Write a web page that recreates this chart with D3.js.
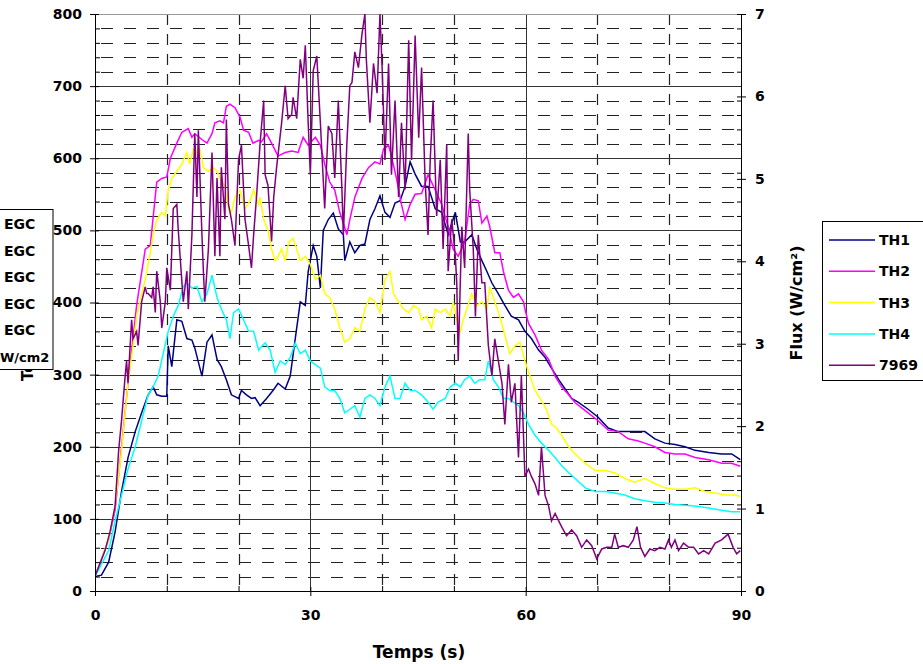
<!DOCTYPE html>
<html>
<head>
<meta charset="utf-8">
<script src="https://cdn.jsdelivr.net/npm/d3@7"></script>
<style>
  body { margin: 0; background: #fff; }
  text { font-family: "DejaVu Sans", Verdana, sans-serif; font-weight: bold; }
</style>
</head>
<body>
<div id="chart"></div>
<script>
// Temperatures (left axis, °C) and flux (right axis, W/cm²) against time (s)
const xTicks = [0, 30, 60, 90];
const yTicks = [0, 100, 200, 300, 400, 500, 600, 700, 800];
const fluxTicks = [0, 1, 2, 3, 4, 5, 6, 7];
const seriesNames = ["TH1", "TH2", "TH3", "TH4", "7969"];
const boxLabels = ["EGC", "EGC", "EGC", "EGC", "EGC", "W/cm2"];

const th1 = [[0,20],[0.9,22],[1.9,40],[2.8,82],[3.7,138],[4.6,185],[5.6,221],[6.5,247],[7.4,272],[8.1,283],[8.6,272],[9.3,270],[10,270],[10.2,340],[10.7,311],[11.4,376],[12.1,374],[12.8,350],[13.5,348],[13.9,337],[14.9,298],[15.6,345],[16.3,355],[17,321],[17.6,311],[18.3,293],[19,272],[20,267],[20.4,278],[21.1,272],[21.8,267],[22.3,268],[23,257],[23.9,267],[24.8,278],[25.5,288],[26.5,280],[27.2,298],[27.9,350],[28.6,401],[29.3,396],[29.7,443],[30.4,479],[30.9,464],[31.4,420],[31.8,500],[32.5,515],[33.2,524],[33.9,502],[34.6,494],[34.8,458],[35.5,484],[36.2,469],[36.9,479],[37.6,481],[38.3,515],[39,530],[39.7,548],[40.4,525],[41.1,518],[41.8,538],[42.5,541],[43.2,561],[43.9,595],[44.6,578],[45.5,561],[46.4,561],[47.4,530],[48.3,525],[49.2,494],[50.2,525],[50.9,484],[51.5,484],[52.5,494],[53.2,474],[53.9,458],[54.6,443],[55.3,427],[56.2,412],[57.1,396],[58,381],[59,376],[59.9,360],[60.8,350],[61.8,334],[62.7,324],[63.6,309],[64.6,293],[65.5,280],[66.4,267],[67.3,262],[68.7,252],[70.1,241],[71.5,226],[72.9,221],[74.3,221],[75.7,221],[76.6,221],[78,211],[79.4,205],[80.8,203],[82.2,200],[83.6,195],[85.5,192],[87.3,190],[88.7,190],[89.9,182]];

const th2 = [[0,20],[1.9,71],[2.8,112],[4.6,288],[5.8,396],[7,474],[7.7,479],[8.6,567],[9.3,572],[10,574],[10.5,600],[11.4,621],[12.1,636],[13,641],[13.5,629],[13.9,634],[14.9,626],[15.6,621],[16.3,634],[16.7,649],[17.4,652],[17.9,649],[18.3,672],[18.8,675],[19.5,670],[20.2,657],[20.7,639],[21.4,636],[22,621],[22.8,625],[23.2,623],[23.9,634],[24.6,621],[25.5,603],[26.5,608],[27.4,610],[28.3,608],[29,629],[29.7,618],[30.7,629],[31.4,618],[32,592],[32.7,567],[33.4,556],[34.1,525],[34.6,510],[35.1,494],[35.5,515],[36.2,546],[37.2,572],[38.1,587],[39,595],[39.7,592],[40.2,613],[40.9,618],[41.3,603],[42,572],[42.7,536],[43.2,515],[43.9,536],[44.6,550],[45.5,551],[46.4,577],[47.4,556],[48.3,536],[49.2,505],[49.9,474],[50.6,464],[51.5,484],[52.2,536],[52.7,543],[53.4,541],[53.9,510],[54.6,520],[55,505],[55.7,469],[56.4,469],[56.9,443],[57.6,417],[58.3,407],[59,412],[59.7,401],[59.9,391],[60.4,371],[61.3,355],[62.2,334],[63.2,321],[64.1,298],[65,283],[66,272],[66.9,261],[68.7,247],[70.1,236],[71.5,223],[72.9,221],[74.3,211],[75.7,208],[76.6,205],[78,200],[79.4,192],[80.8,190],[82.2,190],[83.6,185],[85.5,182],[87.3,177],[88.7,177],[89.9,173]];

const th3 = [[0,20],[1.9,71],[2.8,118],[3.7,195],[4.6,288],[5.3,340],[5.8,381],[6.5,412],[7,432],[7.7,469],[8.1,494],[8.6,515],[9.3,525],[9.8,520],[10.2,556],[10.7,572],[11.4,582],[12.1,592],[12.8,608],[13.2,592],[13.7,613],[14.2,608],[14.6,613],[15.1,587],[15.8,582],[16.5,587],[17,582],[17.4,572],[18.1,561],[18.6,530],[19,525],[19.5,546],[20.2,556],[20.9,530],[21.6,541],[22.1,556],[22.8,536],[23,546],[23.5,515],[24.1,500],[24.6,474],[25.1,458],[25.5,464],[26,474],[26.5,458],[27,484],[27.6,489],[28.1,474],[28.6,458],[29.3,464],[30,453],[30.7,432],[31.4,438],[32,412],[32.7,407],[33.4,391],[34.1,365],[34.8,345],[35.5,350],[36.2,365],[36.9,360],[37.6,391],[38.3,407],[39,401],[39.7,386],[40.4,432],[41.1,443],[41.6,412],[42.3,401],[43,391],[43.7,386],[44.4,396],[45.1,391],[45.5,376],[46.2,381],[46.9,365],[47.4,391],[48.1,386],[48.8,391],[49.5,381],[49.9,401],[50.4,376],[50.9,360],[51.3,376],[51.8,391],[52.5,412],[53.2,396],[53.9,401],[54.6,391],[55,422],[55.7,401],[56.4,381],[57.1,355],[57.8,329],[58.5,340],[59.2,345],[59.9,319],[60.6,298],[61.3,278],[62,267],[62.9,252],[63.6,231],[64.3,226],[65,216],[66,200],[66.9,190],[68.3,177],[69.7,167],[71.1,167],[72.4,164],[73.8,156],[75.2,151],[76.6,156],[78,149],[79.4,143],[80.8,141],[82.2,141],[83.6,143],[85,138],[86.4,136],[87.8,133],[89.2,133],[89.9,131]];

const th4 = [[0,20],[1.9,56],[2.8,97],[3.7,133],[4.6,169],[5.6,200],[6.5,236],[7.4,272],[8.1,283],[8.8,298],[9.5,329],[10.2,360],[10.9,381],[11.6,396],[12.3,422],[12.8,427],[13.5,420],[14.2,422],[14.9,401],[15.6,412],[16.3,438],[17,407],[17.6,391],[18.3,376],[18.8,350],[19.3,386],[20,391],[20.7,376],[21.4,360],[22.1,360],[22.8,334],[23.2,339],[23.7,344],[24.4,334],[25.1,303],[25.8,319],[26.5,314],[27.2,324],[27.9,344],[28.6,329],[29.3,334],[30,319],[30.7,314],[31.4,309],[32,283],[32.7,278],[33.4,278],[34.1,267],[34.8,247],[35.5,252],[36.2,257],[36.9,241],[37.6,267],[38.3,272],[39,267],[39.7,257],[40.4,283],[41.1,298],[41.8,267],[42.5,267],[43.2,288],[43.9,278],[44.6,278],[45.5,272],[46.4,262],[47.1,252],[47.8,262],[48.8,267],[49.5,283],[50.2,288],[50.9,283],[51.5,293],[52.2,298],[52.9,288],[53.6,293],[54.3,293],[54.8,319],[55.5,293],[56.2,283],[56.9,267],[57.6,267],[58.3,262],[59,257],[59.7,247],[60.4,231],[61.3,216],[62.2,205],[63.2,195],[64.1,185],[65,174],[66,164],[66.9,156],[68.3,143],[69.7,138],[71.1,138],[72.4,136],[73.8,133],[75.2,128],[76.6,125],[78,123],[79.4,122],[80.8,120],[82.2,119],[83.6,118],[85.5,115],[87.3,112],[88.7,110],[89.9,110]];

// flux sensor 7969, W/cm² (right axis)
const s7969 = [[0,0.18],[1.4,0.49],[2.1,0.72],[2.8,1.03],[3.3,1.71],[3.7,2.07],[4.2,2.61],[4.4,2.79],[4.6,2.52],[5.1,3.29],[5.3,3.06],[5.8,3.15],[6,2.98],[6.5,3.51],[7,3.69],[7.2,3.61],[7.4,3.61],[7.9,3.56],[8.1,3.69],[8.4,3.38],[8.6,3.88],[9.1,3.51],[9.3,3.19],[9.8,3.51],[10,3.92],[10.5,3.65],[10.7,4.15],[10.9,4.64],[11.4,4.69],[11.6,4.38],[12,3.88],[12.3,3.51],[12.8,3.88],[13,3.42],[13.5,4.32],[13.9,5.55],[14.2,4.78],[14.4,5.59],[14.9,4.32],[15.1,3.88],[15.3,3.51],[15.8,4.15],[16.3,5.32],[16.7,4.06],[17,5.01],[17.4,4.06],[17.6,5.14],[18.1,4.51],[18.3,5.72],[18.6,4.69],[19,4.51],[19.5,4.19],[20,5.23],[20.4,5.41],[20.9,4.51],[21.4,4.19],[21.8,3.92],[22.1,4.32],[22.5,4.78],[23,5.43],[23.5,5.95],[23.7,5.05],[24.1,4.92],[24.6,4.24],[24.9,4.78],[25.3,5.14],[26,5.68],[26.5,6.13],[26.9,5.73],[27.4,5.78],[27.6,5.99],[28.1,5.73],[28.6,6.45],[29,6.22],[29.3,6.62],[29.7,5.68],[30,5.05],[30.4,6.31],[30.9,6.49],[31.4,5.68],[32,4.64],[32.5,5.64],[33,5.55],[33.4,5.01],[33.9,5.95],[34.4,4.87],[34.6,4.32],[35.1,5.45],[35.5,6.13],[35.8,6.17],[36.2,6.54],[36.7,6.35],[37.2,6.76],[37.6,7.0],[37.8,6.45],[38.3,5.68],[38.8,6.4],[39.3,6.04],[39.7,7.0],[40,6.35],[40.4,5.23],[40.9,6.4],[41.3,5.05],[41.8,5.95],[42.3,4.78],[42.7,5.68],[43.2,4.87],[43.7,6.68],[44.1,5.23],[44.6,6.74],[45.1,5.5],[45.5,6.35],[46,4.96],[46.4,4.32],[46.7,5.23],[47.1,5.95],[47.6,4.55],[48.1,5.23],[48.5,4.15],[49,5.42],[49.2,3.88],[49.7,4.51],[50.2,4.06],[50.4,3.74],[50.6,2.79],[51.1,4.42],[51.5,3.92],[52,5.55],[52.2,4.87],[52.7,4.15],[53,3.33],[53.4,4.32],[53.9,3.74],[54.3,3.74],[54.8,2.98],[55.3,2.61],[55.7,3.06],[56.2,2.79],[56.7,2.52],[57.1,2.02],[57.6,2.75],[58,2.29],[58.5,2.52],[59,1.62],[59.4,2.61],[59.9,1.39],[60.4,1.48],[60.8,1.39],[61.3,1.3],[61.8,1.16],[62.2,1.75],[62.7,1.16],[63.2,1.03],[63.6,0.85],[64.1,0.94],[64.6,0.85],[65,0.78],[65.7,0.67],[66.4,0.74],[67.1,0.67],[67.8,0.53],[68.5,0.62],[69.2,0.55],[69.9,0.39],[70.6,0.51],[71.3,0.53],[72,0.53],[72.4,0.69],[72.9,0.53],[73.6,0.55],[74.3,0.53],[75,0.62],[75.5,0.78],[76,0.53],[76.6,0.42],[77.3,0.51],[78,0.49],[78.7,0.53],[79.4,0.51],[79.9,0.62],[80.3,0.53],[80.8,0.62],[81.3,0.49],[82,0.58],[82.7,0.53],[83.4,0.53],[84.1,0.45],[84.8,0.49],[85.5,0.45],[86.4,0.58],[87.3,0.62],[88.2,0.69],[88.9,0.53],[89.4,0.45],[89.9,0.49]];

const colors = ["#000080", "#ff00ff", "#ffff00", "#00ffff", "#800080"];

const W = 923, H = 664;
const margin = { top: 14, right: 182, bottom: 73, left: 95 },
    width = W - margin.left - margin.right,
    height = H - margin.top - margin.bottom;

const svg = d3.select("#chart").append("svg")
    .attr("width", W)
    .attr("height", H);

const g = svg.append("g")
    .attr("transform", `translate(${margin.left},${margin.top})`);

const x = d3.scaleLinear().domain([0, 90]).range([0, width]);
const y = d3.scaleLinear().domain([0, 800]).range([height, 0]);
const yF = d3.scaleLinear().domain([0, 7]).range([height, 0]);

const minorY = d3.range(20, 800, 20).filter(v => v % 100 !== 0);
const minorX = d3.range(10, 90, 10).filter(v => v % 30 !== 0);

// gridlines
const grid = g.append("g");
grid.selectAll(".hmin").data(minorY).enter().append("line")
    .attr("x1", 0).attr("x2", width)
    .attr("y1", d => Math.round(y(d)) + 0.5).attr("y2", d => Math.round(y(d)) + 0.5)
    .attr("stroke", "#222").attr("stroke-width", 1.2)
    .attr("stroke-dasharray", "12,11").attr("stroke-dashoffset", -6);
grid.selectAll(".vmin").data(minorX).enter().append("line")
    .attr("y1", 0).attr("y2", height)
    .attr("x1", d => Math.round(x(d)) + 0.5).attr("x2", d => Math.round(x(d)) + 0.5)
    .attr("stroke", "#222").attr("stroke-width", 1.2)
    .attr("stroke-dasharray", "11,9");
grid.selectAll(".hmaj").data(yTicks.slice(1, -1)).enter().append("line")
    .attr("x1", 0).attr("x2", width)
    .attr("y1", d => Math.round(y(d)) + 0.5).attr("y2", d => Math.round(y(d)) + 0.5)
    .attr("stroke", "#333");
grid.selectAll(".vmaj").data([30, 60]).enter().append("line")
    .attr("y1", 0).attr("y2", height)
    .attr("x1", d => Math.round(x(d)) + 0.5).attr("x2", d => Math.round(x(d)) + 0.5)
    .attr("stroke", "#333");
grid.append("line")
    .attr("x1", 0).attr("x2", width).attr("y1", 0.5).attr("y2", 0.5)
    .attr("stroke", "#999");

// series
g.append("clipPath").attr("id", "clip").append("rect")
    .attr("width", width).attr("height", height);

const lineL = d3.line().x(d => x(d[0])).y(d => y(d[1]));
const lineR = d3.line().x(d => x(d[0])).y(d => yF(d[1]));
const plot = g.append("g").attr("clip-path", "url(#clip)");

[th1, th2, th3, th4].forEach((s, i) => {
    plot.append("path").datum(s)
        .attr("fill", "none").attr("stroke", colors[i])
        .attr("stroke-width", 1.5).attr("d", lineL);
});
plot.append("path").datum(s7969)
    .attr("fill", "none").attr("stroke", colors[4])
    .attr("stroke-width", 1.5).attr("d", lineR);

// axes
function styleAxis(sel) {
    sel.selectAll("path, line").attr("stroke", "#000");
    sel.selectAll("text").attr("font-size", 14).attr("fill", "#000")
        .style("font-family", "'DejaVu Sans', Verdana, sans-serif").style("font-weight", "bold");
}

const yAxis = g.append("g")
    .call(d3.axisLeft(y).tickValues(yTicks).tickSize(5).tickSizeOuter(0).tickPadding(8))
    .call(styleAxis);
yAxis.selectAll(".tick line").attr("x1", 4);
g.append("g")
    .call(d3.axisLeft(y).tickValues(minorY).tickSize(-5).tickFormat(""))
    .call(sel => sel.select(".domain").remove())
    .call(styleAxis);

const rAxis = g.append("g")
    .attr("transform", `translate(${width},0)`)
    .call(d3.axisRight(yF).tickValues(fluxTicks).tickFormat(d3.format("d"))
        .tickSize(5).tickSizeOuter(0).tickPadding(9))
    .call(styleAxis);
rAxis.selectAll(".tick line").attr("x1", -4);
g.append("g")
    .attr("transform", `translate(${width},0)`)
    .call(d3.axisRight(y).tickValues(minorY).tickSize(-4).tickFormat(""))
    .call(sel => sel.select(".domain").remove())
    .call(styleAxis);

const xAxis = g.append("g")
    .attr("transform", `translate(0,${height})`)
    .call(d3.axisBottom(x).tickValues(xTicks).tickSize(5).tickSizeOuter(0).tickPadding(14))
    .call(styleAxis);
xAxis.selectAll(".tick line").attr("y1", -4);
g.append("g")
    .attr("transform", `translate(0,${height})`)
    .call(d3.axisBottom(x).tickValues(minorX).tickSize(-5).tickFormat(""))
    .call(sel => sel.select(".domain").remove())
    .call(styleAxis);

// axis titles
svg.append("text")
    .attr("x", 419)
    .attr("y", 658)
    .attr("text-anchor", "middle")
    .attr("font-size", 17)
    .text("Temps (s)");

svg.append("text")
    .attr("transform", "translate(802,303) rotate(-90)")
    .attr("text-anchor", "middle")
    .attr("font-size", 16)
    .text("Flux (W/cm²)");

svg.append("text")
    .attr("transform", "translate(33,381) rotate(-90)")
    .attr("text-anchor", "start")
    .attr("font-size", 15)
    .text("Température (°C)");

// data table box on the left (partly outside the page in the reference)
const box = svg.append("g");
box.append("rect")
    .attr("x", -5).attr("y", 209.5).attr("width", 58).attr("height", 160)
    .attr("fill", "#fff").attr("stroke", "#000");
box.selectAll("text").data(boxLabels).enter().append("text")
    .attr("x", d => d === "W/cm2" ? 0 : 4)
    .attr("y", (d, i) => 229 + i * 26.6)
    .attr("font-size", d => d === "W/cm2" ? 13 : 14)
    .text(d => d);

// legend
const legend = svg.append("g");
legend.append("rect")
    .attr("x", 822.5).attr("y", 221.5).attr("width", 110).attr("height", 159)
    .attr("fill", "#fff").attr("stroke", "#000");
const items = legend.selectAll(".item").data(seriesNames).enter().append("g")
    .attr("transform", (d, i) => `translate(0,${240 + i * 31.3})`);
items.append("line")
    .attr("x1", 829).attr("x2", 875)
    .attr("stroke", (d, i) => colors[i]).attr("stroke-width", 1.5);
items.append("text")
    .attr("x", 879).attr("dy", "0.36em")
    .attr("font-size", 14)
    .text(d => d);
</script>
</body>
</html>
